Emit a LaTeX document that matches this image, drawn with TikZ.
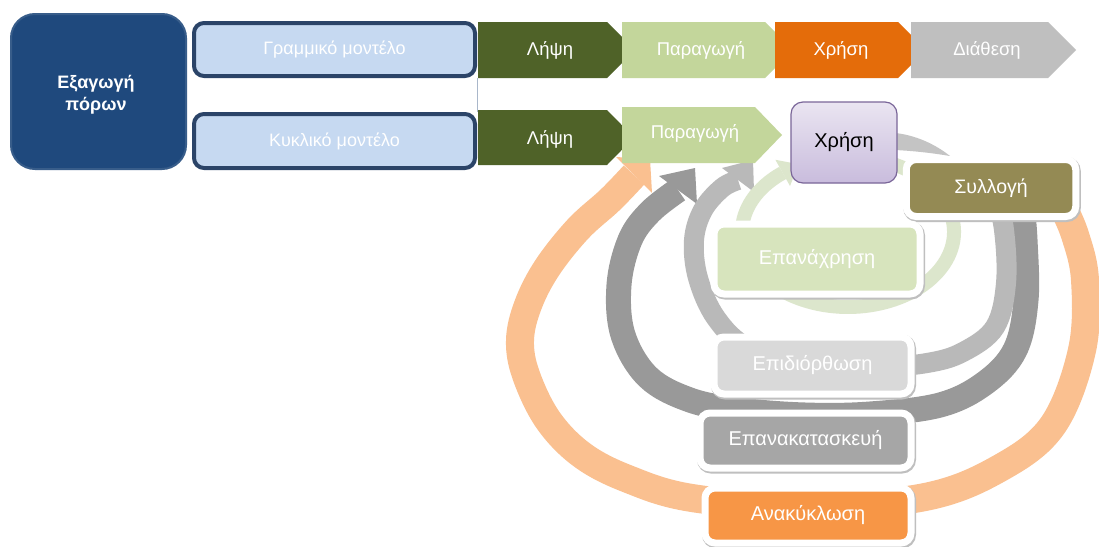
\documentclass[tikz,border=0pt]{standalone}
\usepackage{fontspec}
\setmainfont{Liberation Sans}
\usetikzlibrary{shadows}
\definecolor{navy}{HTML}{1F497D}
\definecolor{srcbd}{HTML}{385D8A}
\definecolor{modbd}{HTML}{2B4468}
\definecolor{modfill}{HTML}{C6D9F1}
\definecolor{dkgreen}{HTML}{4F6228}
\definecolor{ltgreen}{HTML}{C3D69B}
\definecolor{useor}{HTML}{E46C0A}
\definecolor{dispgrey}{HTML}{BFBFBF}
\definecolor{purpT}{HTML}{EAE5F1}
\definecolor{purpB}{HTML}{C9BCDD}
\definecolor{purpbd}{HTML}{7A6699}
\definecolor{collectc}{HTML}{948A54}
\definecolor{reusec}{HTML}{D7E4BD}
\definecolor{repairc}{HTML}{D9D9D9}
\definecolor{remanc}{HTML}{A6A6A6}
\definecolor{recycc}{HTML}{F79646}
\definecolor{arcor}{HTML}{FAC090}
\definecolor{arcdk}{HTML}{999999}
\definecolor{arcmd}{HTML}{B9B9B9}
\definecolor{arcgr}{HTML}{DCE6CC}
\definecolor{tailgrey}{HTML}{C4C4C4}
\definecolor{linegrey}{HTML}{A9B7CA}
\newcommand{\fsz}[1]{\fontsize{#1}{#1}\selectfont}
\tikzset{
  frm/.style={draw=white, line width=7pt, rounded corners=10pt, text=white, font=\fsz{20},
    preaction={draw=black!25, line width=8pt, transform canvas={xshift=1pt,yshift=-1.5pt}}},
  chevtext/.style={text=white, font=\fsz{18.5}},
  model/.style={draw=modbd, line width=4pt, fill=modfill, rounded corners=10pt,
    minimum width=281pt, text=white, font=\fsz{18}},
}
\begin{document}
\begin{tikzpicture}[x=1pt,y=-1pt]
\useasboundingbox (0,0) rectangle (1099,546);
\fill[white] (0,0) rectangle (1099,546);

% left column
\node[draw=srcbd, line width=2pt, fill=navy, rounded corners=24pt,
      minimum width=175pt, minimum height=155pt] (src) at (98.5,91.5) {};
\node[text=white, font=\bfseries\fontsize{18}{22}\selectfont, align=center] (srct) at (96,95) {Εξαγωγή\\πόρων};
\node[model, minimum height=53pt] (lin) at (334.5,49.5) {Γραμμικό μοντέλο};
\node[model, minimum height=54pt] (circ) at (334.5,141) {Κυκλικό μοντέλο};
\draw[linegrey, line width=0.8pt] (lin.south east) -- (circ.north east);

% circular arrows
\draw[arcor, line width=28pt] plot[smooth, tension=0.6] coordinates {(1062,205) (1075,235) (1085,280) (1082,350) (1053,425) (1000,468) (925,497) (805,507) (692,498) (628,479) (582,455) (548,420) (526,375) (520,340) (528,305) (547,268) (578,229) (610,200) (634,175)};
\fill[arcor] (616,157) -- (650,159) -- (652,193) -- cycle;

\draw[arcdk, line width=25pt] plot[smooth, tension=0.6] coordinates {(1022,205) (1025,240) (1026,300) (1015,350) (985,383) (940,405) (870,414) (805,415) (740,410) (690,400) (648,377) (623,335) (619,285) (630,240) (650,212) (678,190)};
\fill[arcdk] (659,176) -- (695,168) -- (697,204) -- cycle;

\draw[arcmd, line width=20pt] plot[smooth, tension=0.6] coordinates {(995,190) (1004,230) (1006,283) (995,327) (963,352) (927,363) (870,368) (805,366) (748,348) (716,318) (698,278) (694,240) (703,210) (722,188) (738,180)};
\fill[arcmd] (722,168) -- (753,160) -- (754,192) -- cycle;

\draw[arcgr, line width=14pt] (892.8,164.0) arc[start angle=-65, end angle=232, x radius=106, y radius=75];
\fill[arcgr] (775.4,159.8) -- (798.5,164.2) -- (790,186) -- cycle;

% tapered grey tail between Χρήση and Συλλογή
\fill[tailgrey] (895,133) .. controls (915,135) and (935,144) .. (950,156)
  .. controls (932,153) and (915,151) .. (895,150) -- cycle;

% top row (linear model)
\fill[dkgreen] (478,22) -- (607,22) -- (635,50) -- (607,78) -- (478,78) -- cycle;
\fill[ltgreen] (622,22) -- (765,22) -- (793,50) -- (765,78) -- (622,78) -- cycle;
\fill[useor] (775,22) -- (898,22) -- (926,50) -- (898,78) -- (775,78) -- cycle;
\fill[dispgrey] (911,22) -- (1048,22) -- (1076,50) -- (1048,78) -- (911,78) -- cycle;
\node[chevtext] (t1) at (550,50) {Λήψη};
\node[chevtext] (t2) at (701,50) {Παραγωγή};
\node[chevtext] (t3) at (841,50) {Χρήση};
\node[chevtext] (t4) at (987,50) {Διάθεση};

% second row (circular model)
\fill[dkgreen] (478,110) -- (607,110) -- (634,137.5) -- (607,165) -- (478,165) -- cycle;
\fill[ltgreen] (622,107) -- (755,107) -- (782,135) -- (755,163) -- (622,163) -- cycle;
\node[chevtext] (c1) at (550,139) {Λήψη};
\node[chevtext] (c2) at (695,133) {Παραγωγή};
\node[draw=purpbd, line width=1.2pt, top color=purpT, bottom color=purpB, rounded corners=12pt,
      minimum width=106pt, minimum height=81pt, font=\fsz{20}] (use2) at (844,142.5) {Χρήση};

% framed boxes
\node[frm, fill=collectc, minimum width=169.5pt, minimum height=57pt, font=\fsz{19.5}] (collect) at (991,188) {Συλλογή};
\node[frm, fill=reusec, minimum width=206pt, minimum height=70pt] (reuse) at (817,259) {Επανάχρηση};
\node[frm, fill=repairc, minimum width=197pt, minimum height=57pt] (repair) at (812.5,365.5) {Επιδιόρθωση};
\node[frm, fill=remanc, minimum width=211pt, minimum height=55pt] (reman) at (805.5,440.5) {Επανακατασκευή};
\node[frm, fill=recycc, minimum width=206pt, minimum height=55pt] (recyc) at (808,515.5) {Ανακύκλωση};
\end{tikzpicture}
\end{document}
